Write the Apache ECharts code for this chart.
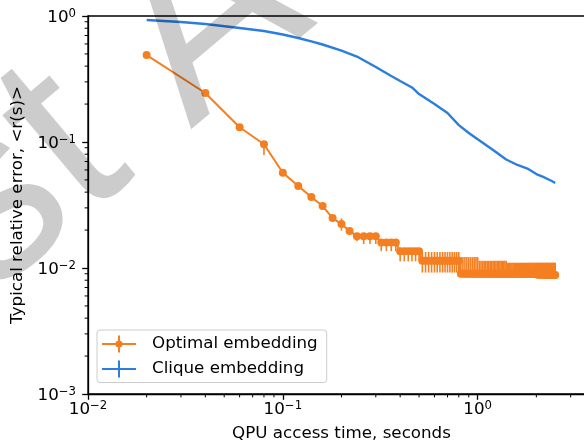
<!DOCTYPE html>
<html><head><meta charset="utf-8">
<script src="https://cdn.jsdelivr.net/npm/echarts@6/dist/echarts.min.js"></script>
<style>html,body{margin:0;padding:0;background:#fff}#c{width:584px;height:446px}</style>
</head><body><div id="c"></div>
<script>
// ---- data ----
const times = [
 0.02,0.04,0.06,0.08,0.10,0.12,0.14,0.16,0.18,0.20,
 0.22,0.24,0.26,0.28,0.30,0.32,0.34,0.36,0.38,0.40,
 0.42,0.44,0.46,0.48,0.50,0.52,0.54,0.56,0.58,0.60,
 0.62,0.64,0.66,0.68,0.70,0.72,0.74,0.76,0.78,0.80,
 0.82,0.84,0.86,0.88,0.90,0.92,0.94,0.96,0.98,1.00,
 1.02,1.04,1.06,1.08,1.10,1.12,1.14,1.16,1.18,1.20,
 1.22,1.24,1.26,1.28,1.30,1.32,1.34,1.36,1.38,1.40,
 1.42,1.44,1.46,1.48,1.50,1.52,1.54,1.56,1.58,1.60,
 1.62,1.64,1.66,1.68,1.70,1.72,1.74,1.76,1.78,1.80,
 1.82,1.84,1.86,1.88,1.90,1.92,1.94,1.96,1.98,2.00,
 2.02,2.04,2.06,2.08,2.10,2.12,2.14,2.16,2.18,2.20,
 2.22,2.24,2.26,2.28,2.30,2.32,2.34,2.36,2.38,2.40,
 2.42,2.44,2.46,2.48,2.50
];
const optimal = [
 0.49,0.245,0.131,0.096,0.057,0.0448,0.0366,0.031,0.0249,0.0223,
 0.0197,0.0179,0.0179,0.0179,0.0179,0.0159,0.0159,0.0159,0.0159,0.0136,
 0.0136,0.0136,0.0136,0.0136,0.0136,0.0114,0.0114,0.0114,0.0114,0.0114,
 0.0114,0.0114,0.0114,0.0114,0.0114,0.0114,0.0114,0.0114,0.0114,0.0114,
 0.0090,0.0090,0.0090,0.0090,0.0090,0.0090,0.0090,0.0090,0.0090,0.0090,
 0.0090,0.0090,0.0090,0.0090,0.0090,0.0090,0.0090,0.0090,0.0090,0.0090,
 0.0090,0.0090,0.0090,0.0090,0.0090,0.0090,0.0090,0.0090,0.0090,0.0090,
 0.0090,0.0090,0.0090,0.0090,0.0090,0.0090,0.0090,0.0090,0.0090,0.0090,
 0.0090,0.0090,0.0090,0.0090,0.0090,0.0090,0.0090,0.0090,0.0090,0.0090,
 0.0090,0.0090,0.0090,0.0090,0.0090,0.0090,0.0090,0.0090,0.0090,0.0090,
 0.0089,0.0089,0.0089,0.0089,0.0089,0.0089,0.0089,0.0089,0.0089,0.0089,
 0.0088,0.0088,0.0088,0.0088,0.0088,0.0088,0.0088,0.0088,0.0088,0.0088,
 0.0088,0.0088,0.0088,0.0088,0.0088
];
const optimalLow = [
 0.49,0.245,0.124,0.079,0.054,0.042,0.0345,0.029,0.0235,0.0198,
 0.0186,0.0163,0.0155,0.0155,0.0155,0.0136,0.0136,0.0136,0.0136,0.0113,
 0.0113,0.0113,0.0113,0.0113,0.0113,0.0092,0.0092,0.0092,0.0092,0.0092,
 0.0092,0.0092,0.0092,0.0092,0.0092,0.0092,0.0092,0.0092,0.0092,0.0092,
 0.0085,0.0085,0.0085,0.0085,0.0085,0.0085,0.0085,0.0085,0.0085,0.0085,
 0.0085,0.0085,0.0085,0.0085,0.0085,0.0085,0.0085,0.0085,0.0085,0.0085,
 0.0085,0.0085,0.0085,0.0085,0.0085,0.0085,0.0085,0.0085,0.0085,0.0085,
 0.0085,0.0085,0.0085,0.0085,0.0085,0.0085,0.0085,0.0085,0.0085,0.0085,
 0.0085,0.0085,0.0085,0.0085,0.0085,0.0085,0.0085,0.0085,0.0085,0.0085,
 0.0085,0.0085,0.0085,0.0085,0.0085,0.0085,0.0085,0.0085,0.0085,0.0085,
 0.0084,0.0084,0.0084,0.0084,0.0084,0.0084,0.0084,0.0084,0.0084,0.0084,
 0.0084,0.0084,0.0084,0.0084,0.0084,0.0084,0.0084,0.0084,0.0084,0.0084,
 0.0084,0.0084,0.0084,0.0084,0.0084
];
const optimalHigh = [
 0.49,0.245,0.139,0.100,0.060,0.047,0.0385,0.033,0.026,0.0248,
 0.0208,0.0179,0.0179,0.0179,0.0179,0.0159,0.0159,0.0159,0.0159,0.0136,
 0.0136,0.0136,0.0136,0.0136,0.0136,0.0134,0.0134,0.0134,0.0134,0.0134,
 0.0134,0.0134,0.0134,0.0134,0.0134,0.0134,0.0134,0.0134,0.0134,0.0134,
 0.0122,0.0122,0.0122,0.0122,0.0122,0.0122,0.0122,0.0122,0.0122,0.0122,
 0.0114,0.0114,0.0114,0.0114,0.0114,0.0114,0.0114,0.0114,0.0114,0.0114,
 0.0114,0.0114,0.0114,0.0114,0.0114,0.0114,0.0114,0.0114,0.0114,0.0114,
 0.0110,0.0110,0.0110,0.0110,0.0110,0.0110,0.0110,0.0110,0.0110,0.0110,
 0.0110,0.0110,0.0110,0.0110,0.0110,0.0110,0.0110,0.0110,0.0110,0.0110,
 0.0110,0.0110,0.0110,0.0110,0.0110,0.0110,0.0110,0.0110,0.0110,0.0110,
 0.0110,0.0110,0.0110,0.0110,0.0110,0.0110,0.0110,0.0110,0.0110,0.0110,
 0.0110,0.0110,0.0110,0.0110,0.0110,0.0110,0.0110,0.0110,0.0110,0.0110,
 0.0110,0.0110,0.0110,0.0110,0.0110
];
const cliqueTimes = [0.02,0.03,0.04,0.06,0.08,0.10,0.12,0.14,0.16,0.20,0.24,0.30,0.36,0.40,0.46,0.50,0.60,0.70,0.80,0.90,1.00,1.20,1.40,1.60,1.80,2.00,2.20,2.40,2.50];
const clique = [0.929,0.896,0.864,0.803,0.760,0.713,0.669,0.628,0.594,0.532,0.477,0.394,0.334,0.305,0.271,0.240,0.200,0.170,0.136,0.118,0.105,0.0864,0.0726,0.0657,0.0616,0.0557,0.0523,0.049,0.0473];
const xMinorTicks = [0.02,0.03,0.04,0.05,0.06,0.07,0.08,0.09,0.2,0.3,0.4,0.5,0.6,0.7,0.8,0.9,2,3];
const yMinorTicks = [0.002,0.003,0.004,0.005,0.006,0.007,0.008,0.009,0.02,0.03,0.04,0.05,0.06,0.07,0.08,0.09,0.2,0.3,0.4,0.5,0.6,0.7,0.8,0.9];
const seriesNames = ['Optimal embedding','Clique embedding'];
const xTitle = 'QPU access time, seconds';
const yTitle = 'Typical relative error, <r(s)>';
const watermark = 'Just Accepted';

// ---- styles ----
const ORANGE = '#f57f20';
const BLUE = '#2b7de0';
const FONT = 'DejaVu Sans';
const FS = 16.7;

const chart = echarts.init(document.getElementById('c'), null, {renderer:'canvas'});
const supLabel = v => {
  const e = Math.round(Math.log10(v));
  return '{b|10}{s|' + (e < 0 ? '\u2212' : '') + Math.abs(e) + '}';
};
const rich = {
  b:{fontSize:FS, fontFamily:FONT, color:'#000'},
  s:{fontSize:11.7, fontFamily:FONT, color:'#000', padding:[0,0,8,0]}
};
const tickLine = (horiz) => (params, api) => {
  const p = api.coord([api.value(0), api.value(1)]);
  const L = 3.4;
  return {type:'line', shape: horiz ? {x1:p[0]-L, y1:p[1], x2:p[0], y2:p[1]} : {x1:p[0], y1:p[1], x2:p[0], y2:p[1]+L},
          style:{stroke:'#000', lineWidth:1}};
};

chart.setOption({
  animation:false,
  backgroundColor:'#fff',
  grid:{left:88, top:16, width:507, height:378, show:true, borderColor:'#000', borderWidth:1.3,
        backgroundColor:'transparent', containLabel:false, outerBoundsMode:'none'},
  xAxis:{
    type:'log', logBase:10, min:0.01, max:4,
    name:xTitle, nameLocation:'middle', nameGap:31,
    nameTextStyle:{fontSize:FS, fontFamily:FONT, color:'#000'},
    axisLine:{show:true, lineStyle:{color:'#000', width:1.3}},
    axisTick:{show:true, inside:false, length:5.8, lineStyle:{color:'#000', width:1.3}},
    axisLabel:{formatter:supLabel, rich:rich, margin:6, showMaxLabel:false},
    splitLine:{show:false}, minorTick:{show:false}
  },
  yAxis:{
    type:'log', logBase:10, min:0.001, max:1,
    name:yTitle, nameLocation:'middle', nameGap:51,
    nameTextStyle:{fontSize:FS, fontFamily:FONT, color:'#000'},
    axisLine:{show:true, lineStyle:{color:'#000', width:1.3}},
    axisTick:{show:true, inside:false, length:5.8, lineStyle:{color:'#000', width:1.3}},
    axisLabel:{formatter:supLabel, rich:rich, margin:12, padding:[3,0,0,0]},
    splitLine:{show:false}
  },
  legend:{
    orient:'vertical', left:97, top:330,
    padding:[5.5,9,5,5], itemGap:8, itemWidth:34, itemHeight:17, symbolKeepAspect:false,
    backgroundColor:'rgba(255,255,255,0.8)', borderColor:'#cccccc', borderWidth:1, borderRadius:3,
    formatter: name => '{t|' + name + '}',
    textStyle:{fontSize:FS, fontFamily:FONT, color:'#000',
      rich:{t:{fontSize:FS, fontFamily:FONT, color:'#000', padding:[0,0,0,11]}}},
    data:[
      {name:seriesNames[0], icon:'path://M0,7.5h34v2h-34z M16,0h2v17h-2z M13.4,8.5a3.6,3.6 0 1,1 7.2,0a3.6,3.6 0 1,1 -7.2,0z'},
      {name:seriesNames[1], icon:'path://M0,7.5h34v2h-34z M16,0h2v17h-2z'}
    ],
    z:20
  },
  series:[
    {
      name:seriesNames[1], type:'line',
      data:cliqueTimes.map((t,i)=>[t, clique[i]]),
      showSymbol:false, symbol:'none', smooth:false,
      lineStyle:{color:BLUE, width:2.4}, itemStyle:{color:BLUE}, z:2
    },
    {
      name:'optimalErr', type:'custom',
      data:times.map((t,i)=>[t, optimalLow[i], optimalHigh[i]]),
      encode:{x:0, y:[1,2]}, clip:false, z:3,
      renderItem:(params, api) => {
        const a = api.coord([api.value(0), api.value(1)]);
        const b = api.coord([api.value(0), api.value(2)]);
        return {type:'line', shape:{x1:a[0], y1:a[1], x2:b[0], y2:b[1]}, style:{stroke:ORANGE, lineWidth:1.6}};
      }
    },
    {
      name:seriesNames[0], type:'line',
      data:times.map((t,i)=>[t, optimal[i]]),
      symbol:'circle', symbolSize:8, showSymbol:true, showAllSymbol:true,
      lineStyle:{color:ORANGE, width:2}, itemStyle:{color:ORANGE}, z:4
    },
    {
      name:'xMinor', type:'custom', clip:false, silent:true,
      data:xMinorTicks.map(v=>[v, 0.001]), renderItem:tickLine(false), z:5
    },
    {
      name:'yMinor', type:'custom', clip:false, silent:true,
      data:yMinorTicks.map(v=>[0.01, v]), renderItem:tickLine(true), z:5
    }
  ],
  graphic:[
    {type:'text', x:-258, y:416, rotation:40*Math.PI/180, z:100, silent:true,
     style:{text:watermark, x:0, y:0, fontSize:250, fontFamily:'Liberation Sans', fill:'rgba(0,0,0,0.2)', align:'left', verticalAlign:'middle'}}
  ]
});
</script></body></html>
